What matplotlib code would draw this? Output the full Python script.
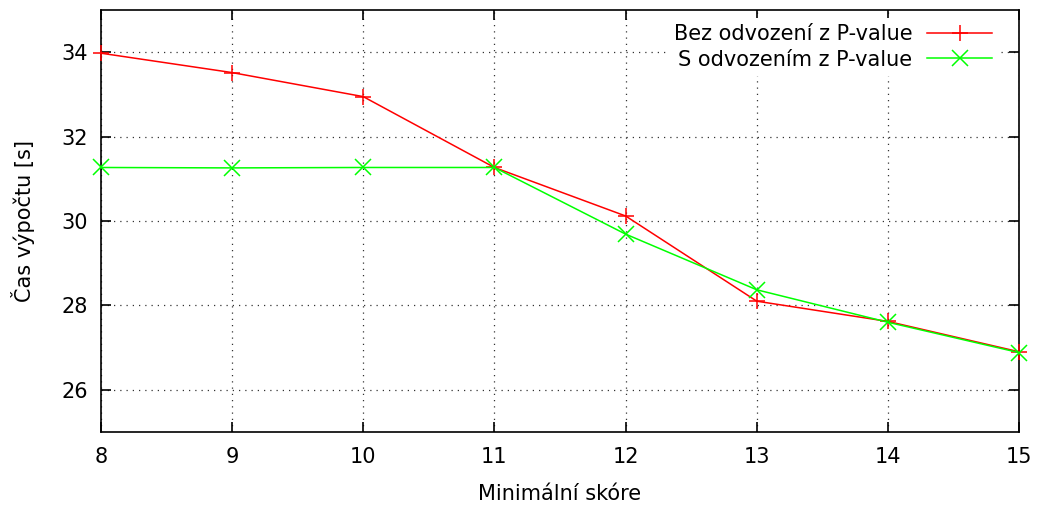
import matplotlib
matplotlib.use('Agg')
import matplotlib.pyplot as plt

# Data
min_score = [8, 9, 10, 11, 12, 13, 14, 15]
bez_odvozeni = [33.98, 33.52, 32.95, 31.27, 30.12, 28.10, 27.62, 26.90]
s_odvozenim = [31.27, 31.26, 31.27, 31.27, 29.69, 28.37, 27.60, 26.88]

y_ticks = [26, 28, 30, 32, 34]

fig, ax = plt.subplots(figsize=(10.39, 5.07), dpi=100)
fig.subplots_adjust(left=0.097, right=0.981, top=0.980, bottom=0.148)

ax.plot(min_score, bez_odvozeni, color='#ff0000', marker='+', markersize=12,
        markeredgewidth=1.1, linewidth=1.1, label='Bez odvození z P-value',
        clip_on=False, zorder=3)
ax.plot(min_score, s_odvozenim, color='#00ff00', marker='x', markersize=11,
        markeredgewidth=1.1, linewidth=1.1, label='S odvozením z P-value',
        clip_on=False, zorder=3)

ax.set_xlim(8, 15)
ax.set_ylim(25, 35)
ax.set_xticks(min_score)
ax.set_yticks(y_ticks)
ax.tick_params(direction='in', top=True, right=True, length=7, width=1.2,
               labelsize=15)
ax.tick_params(axis='x', pad=11)
ax.tick_params(axis='y', pad=9)
ax.grid(True, color='black', linestyle=(0, (1, 4)), linewidth=0.9, alpha=0.8)

for spine in ax.spines.values():
    spine.set_linewidth(1.2)

ax.set_xlabel('Minimální skóre', fontsize=15, labelpad=12)
ax.set_ylabel('Čas výpočtu [s]', fontsize=15, labelpad=19)

leg = ax.legend(loc='upper right', bbox_to_anchor=(0.977, 0.981),
                markerfirst=False, fontsize=15,
                frameon=True, framealpha=1, edgecolor='none',
                facecolor='white', handlelength=3.1, borderaxespad=0,
                labelspacing=0.25, handletextpad=0.72, borderpad=0.3)
for t in leg.get_texts():
    t.set_ha('right')
leg.set_zorder(5)

plt.savefig('out.png', dpi=100)
plt.close()
